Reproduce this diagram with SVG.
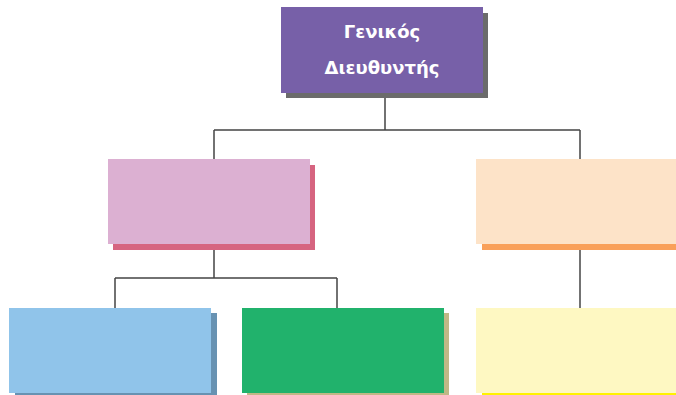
<svg xmlns="http://www.w3.org/2000/svg" width="676" height="395" viewBox="0 0 676 395">
<style>
.ln{stroke:#444;stroke-width:1.5;fill:none}
.t{font-family:"DejaVu Sans",sans-serif;font-weight:bold;font-size:18px;fill:#fff;text-anchor:middle}
</style>
<rect width="676" height="395" fill="#fff"/>
<g id="connectors">
<path class="ln" d="M385 98V130M214 130H580M214 130V159M580 130V159"/>
<path class="ln" d="M214 250V278M115 278H337M115 278V308M337 278V308"/>
<path class="ln" d="M580 250V308"/>
</g>
<g id="ceo">
<rect x="286" y="13" width="202" height="85" fill="#6b6b6b"/>
<rect x="281" y="7" width="202" height="86" fill="#7760a8"/>
<text class="t" x="382" y="38">Γενικός</text>
<text class="t" x="382" y="74">Διευθυντής</text>
</g>
<g id="pink">
<rect x="113" y="165" width="202" height="85" fill="#d66480"/>
<rect x="108" y="159" width="202" height="85" fill="#dcb0d2"/>
</g>
<g id="peach">
<rect x="482" y="165" width="194" height="85" fill="#f9a05a"/>
<rect x="476" y="159" width="200" height="85" fill="#fde3c8"/>
</g>
<g id="blue">
<rect x="15" y="313" width="202" height="85" fill="#6892b2"/>
<rect x="9" y="308" width="202" height="85" fill="#90c4ea"/>
</g>
<g id="green">
<rect x="247" y="313" width="202" height="85" fill="#c0b886"/>
<rect x="242" y="308" width="202" height="85" fill="#21b26c"/>
</g>
<g id="yellow">
<rect x="482" y="313" width="194" height="85" fill="#fff200"/>
<rect x="476" y="308" width="200" height="85" fill="#fef8c2"/>
</g>
</svg>
